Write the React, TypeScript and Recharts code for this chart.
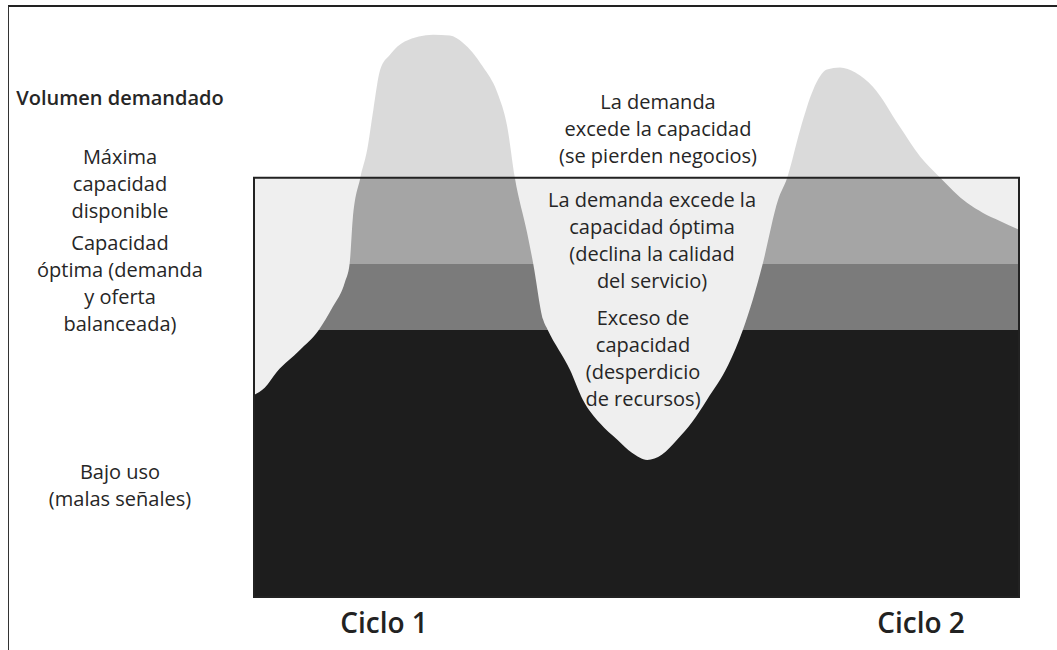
import React from 'react';
import { ComposedChart, Area, XAxis, YAxis, ReferenceArea } from 'recharts';

// tiempo dentro del gráfico (0-100) y volumen demandado (100 = capacidad máxima)
const cycleTime = [
  0, 1.4, 3.0, 6.0, 8.4, 10.3, 11.9, 12.5, 12.9, 13.9, 14.8, 15.6, 16.5, 17.8, 19.7,
  23.4, 25.6, 27.3, 29.9, 31.8, 33.1, 34.1, 35.7, 36.5, 37.8, 38.4, 41.3, 43.0, 45.2, 47.5,
  49.4, 51.4, 53.3, 55.3, 57.3, 59.2, 62.0, 63.9, 65.2, 66.5, 68.5, 69.7, 71.4, 73.1, 74.9,
  76.6, 78.6, 80.9, 84.4, 87.1, 89.7, 93.2, 95.3, 97.5, 100,
];
const demandVolume = [
  48.2, 49.9, 53.7, 58.9, 63.5, 69.2, 75.2, 79.5, 90.0, 100, 106.7, 116.2, 125.8, 129.4, 132.5,
  134.1, 133.9, 132.2, 126.5, 120.3, 112.2, 100, 86.9, 79.5, 66.1, 63.7, 54.2, 47.0, 41.5, 37.5,
  34.4, 32.7, 33.9, 37.5, 41.8, 47.0, 55.4, 63.7, 70.9, 79.5, 94.7, 100, 111.5, 121.0, 125.8,
  126.3, 125.1, 121.7, 112.2, 105.0, 100, 94.0, 91.6, 89.7, 87.6,
];

// niveles de capacidad
const maxCapacity = 100;
const optimalCapacity = 79.5;
const lowUse = 63.7;

const leftLabels = [
  { lines: ['Volumen demandado'], bold: true, top: 84 },
  { lines: ['Máxima', 'capacidad', 'disponible'], top: 143 },
  { lines: ['Capacidad', 'óptima (demanda', 'y oferta', 'balanceada)'], top: 229 },
  { lines: ['Bajo uso', '(malas señales)'], top: 458 },
];
const zoneLabels = [
  { lines: ['La demanda', 'excede la capacidad', '(se pierden negocios)'], cx: 658, top: 88 },
  { lines: ['La demanda excede la', 'capacidad óptima', '(declina la calidad', 'del servicio)'], cx: 652, top: 186 },
  { lines: ['Exceso de', 'capacidad', '(desperdicio', 'de recursos)'], cx: 643, top: 304 },
];
const cycleLabels = [
  { text: 'Ciclo 1', cx: 384 },
  { text: 'Ciclo 2', cx: 921 },
];

const data = cycleTime.map((t, i) => ({ t, demand: demandVolume[i] }));

const peak = Math.max(...demandVolume);
const stopAt = (level: number) => `${((peak - level) / peak) * 100}%`;

const FONT = '"Open Sans", "DejaVu Sans", sans-serif';

const TextBlock = ({ lines, cx, top, bold }: { lines: string[]; cx: number; top: number; bold?: boolean }) => (
  <div
    style={{
      position: 'absolute',
      left: cx - 150,
      top,
      width: 300,
      textAlign: 'center',
      fontFamily: FONT,
      fontSize: 20,
      lineHeight: '27px',
      fontWeight: bold ? 600 : 400,
      color: '#262626',
      whiteSpace: 'nowrap',
    }}
  >
    {lines.map((l, i) => (
      <div key={i}>{l}</div>
    ))}
  </div>
);

export default function App() {
  return (
    <div style={{ position: 'absolute', left: 0, top: 0, width: 1057, height: 650, background: '#fff', overflow: 'hidden' }}>
      {/* marco exterior */}
      <div
        style={{
          position: 'absolute',
          left: 8,
          top: 5,
          width: 1060,
          height: 660,
          borderTop: '2px solid #222',
          borderLeft: '1.5px solid #333',
        }}
      />
      <div style={{ position: 'absolute', left: 0, top: 0 }}>
        <ComposedChart width={1057} height={650} data={data} margin={{ top: 10, right: 38, left: 254, bottom: 53 }}>
          <defs>
            <linearGradient id="demandFill" x1="0" y1="0" x2="0" y2="1">
              <stop offset="0%" stopColor="#dadada" />
              <stop offset={stopAt(maxCapacity)} stopColor="#dadada" />
              <stop offset={stopAt(maxCapacity)} stopColor="#a5a5a5" />
              <stop offset={stopAt(optimalCapacity)} stopColor="#a5a5a5" />
              <stop offset={stopAt(optimalCapacity)} stopColor="#7b7b7b" />
              <stop offset={stopAt(lowUse)} stopColor="#7b7b7b" />
              <stop offset={stopAt(lowUse)} stopColor="#1d1d1d" />
              <stop offset="100%" stopColor="#1d1d1d" />
            </linearGradient>
          </defs>
          <XAxis dataKey="t" type="number" domain={[0, 100]} hide />
          <YAxis type="number" domain={[0, 140]} hide allowDataOverflow />
          <ReferenceArea x1={0} x2={100} y1={0} y2={maxCapacity} fill="#efefef" fillOpacity={1} stroke="none" />
          <Area
            type="monotone"
            dataKey="demand"
            stroke="none"
            fill="url(#demandFill)"
            fillOpacity={1}
            isAnimationActive={false}
            dot={false}
            activeDot={false}
          />
          <ReferenceArea x1={0} x2={100} y1={0} y2={maxCapacity} fill="none" stroke="#222" strokeWidth={2} />
        </ComposedChart>
      </div>
      {leftLabels.map((b, i) => (
        <TextBlock key={i} lines={b.lines} cx={120} top={b.top} bold={b.bold} />
      ))}
      {zoneLabels.map((b, i) => (
        <TextBlock key={i} lines={b.lines} cx={b.cx} top={b.top} />
      ))}
      {cycleLabels.map((c, i) => (
        <div
          key={i}
          style={{
            position: 'absolute',
            left: c.cx - 100,
            top: 603,
            width: 200,
            textAlign: 'center',
            fontFamily: FONT,
            fontSize: 28,
            fontWeight: 600,
            lineHeight: '38px',
            color: '#222',
          }}
        >
          {c.text}
        </div>
      ))}
    </div>
  );
}
